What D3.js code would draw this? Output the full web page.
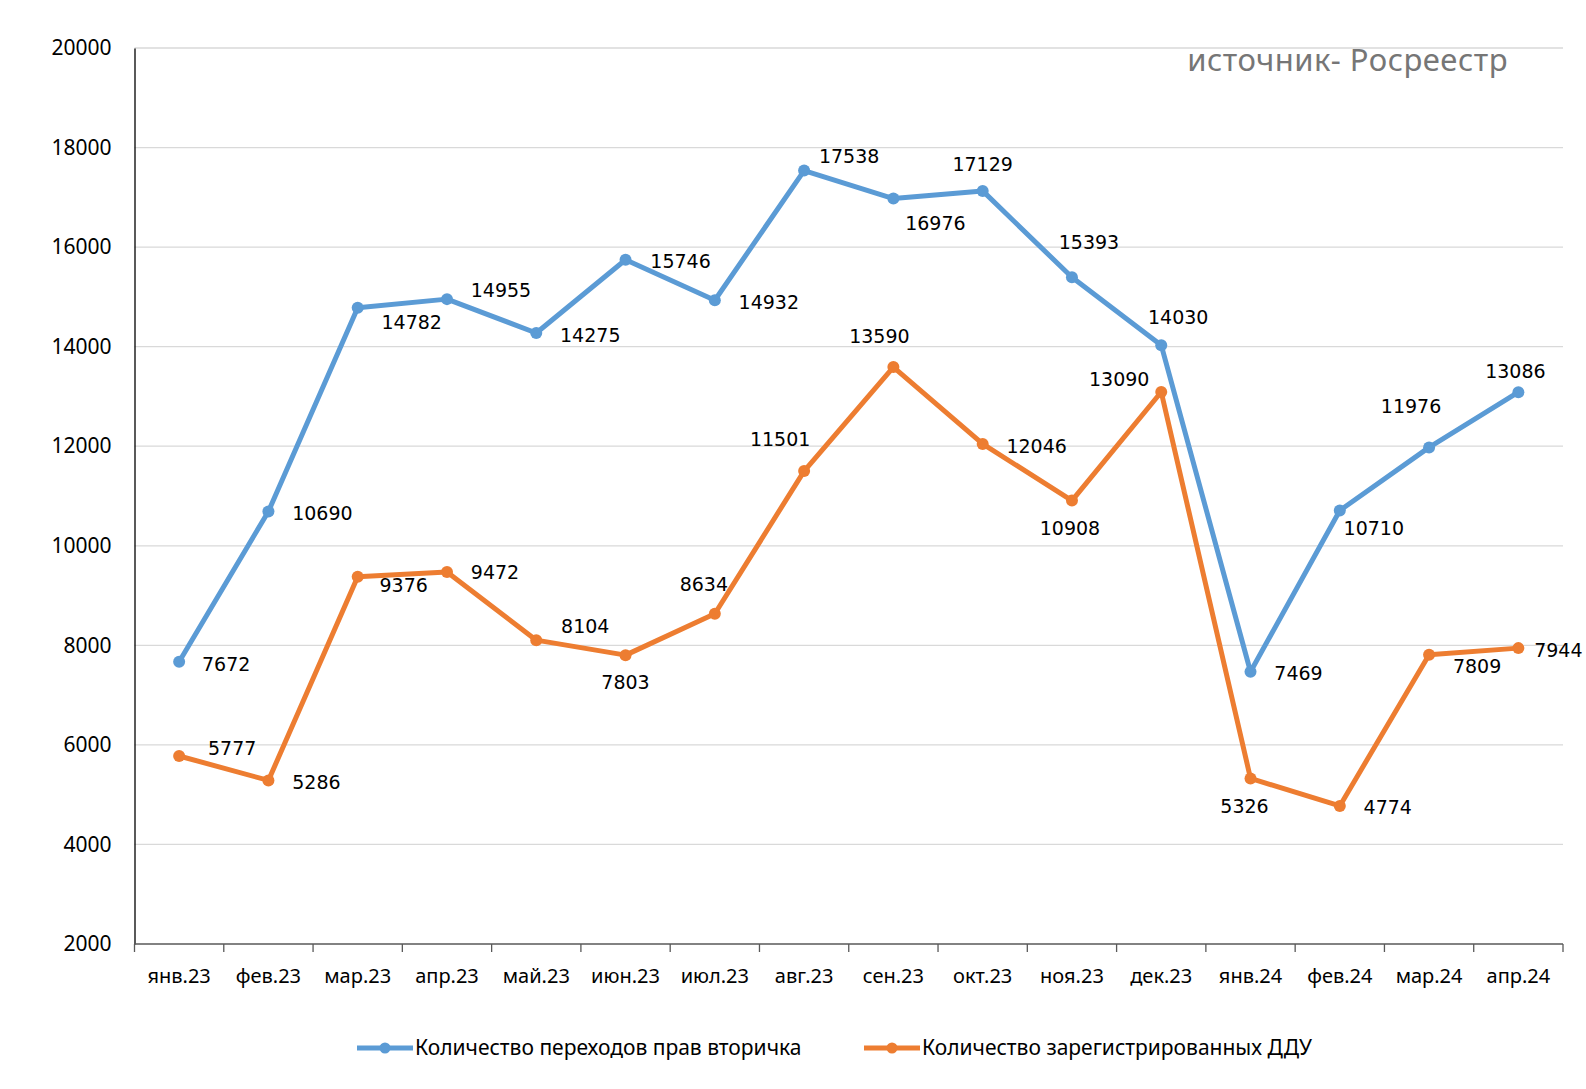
<!DOCTYPE html>
<html>
<head>
<meta charset="utf-8">
<script src="https://cdn.jsdelivr.net/npm/d3@7"></script>
<style>
  body { margin: 0; background: #fff; }
  svg { display: block; }
</style>
</head>
<body>
<div id="chart"></div>
<script>
// data
const months = ['янв.23', 'фев.23', 'мар.23', 'апр.23', 'май.23', 'июн.23', 'июл.23', 'авг.23',
                'сен.23', 'окт.23', 'ноя.23', 'дек.23', 'янв.24', 'фев.24', 'мар.24', 'апр.24'];
const secondary = [7672, 10690, 14782, 14955, 14275, 15746, 14932, 17538,
                   16976, 17129, 15393, 14030, 7469, 10710, 11976, 13086];
const ddu = [5777, 5286, 9376, 9472, 8104, 7803, 8634, 11501,
             13590, 12046, 10908, 13090, 5326, 4774, 7809, 7944];
const yTicks = [2000, 4000, 6000, 8000, 10000, 12000, 14000, 16000, 18000, 20000];
const seriesNames = ['Количество переходов прав вторичка', 'Количество зарегистрированных ДДУ'];

// label placement relative to its point [dx, dy]
const secondaryLabelPos = [[47, 3], [54, 2], [54, 15], [54, -9], [54, 2], [55, 2], [54, 2], [45, -14],
                           [42, 25], [0, -27], [17, -35], [17, -28], [48, 2], [34, 18], [-18, -41], [-3, -21]];
const dduLabelPos = [[53, -8], [48, 2], [46, 9], [48, 0], [49, -14], [0, 27], [-11, -29], [-24, -32],
                     [-14, -31], [54, 2], [-2, 28], [-42, -13], [-6, 28], [48, 1], [48, 12], [40, 2]];

const width = 1586, height = 1089;
const margin = { top: 48, right: 23, bottom: 145, left: 134.5 };
const blue = '#5b9bd5', orange = '#ed7d31';

const svg = d3.select('#chart').append('svg')
    .attr('width', width)
    .attr('height', height);

const x = d3.scaleBand()
    .domain(months)
    .range([margin.left, width - margin.right]);

const y = d3.scaleLinear()
    .domain([2000, 20000])
    .range([height - margin.bottom, margin.top]);

// gridlines
svg.append('g')
    .selectAll('line')
    .data(yTicks.slice(1))
    .join('line')
    .attr('x1', margin.left)
    .attr('x2', width - margin.right)
    .attr('y1', d => y(d))
    .attr('y2', d => y(d))
    .attr('stroke', '#d9d9d9')
    .attr('stroke-width', 1.3);

// y axis
const yAxis = svg.append('g')
    .attr('transform', `translate(${margin.left},0)`)
    .call(d3.axisLeft(y).tickValues(yTicks).tickSize(0).tickPadding(23).tickFormat(d3.format('d')));
yAxis.select('.domain').attr('stroke', '#000').attr('stroke-width', 1.3);
yAxis.selectAll('text')
    .attr('font-family', 'Noto Sans, sans-serif')
    .attr('font-size', 21)
    .attr('fill', '#000');

// x axis with ticks between categories
const xAxis = svg.append('g')
    .attr('transform', `translate(0,${y(2000)})`);
xAxis.append('line')
    .attr('x1', margin.left)
    .attr('x2', width - margin.right)
    .attr('stroke', '#595959')
    .attr('stroke-width', 1.3);
const edges = months.map(m => x(m)).concat([x(months[months.length - 1]) + x.bandwidth()]);
xAxis.selectAll('.tk')
    .data(edges)
    .join('line')
    .attr('class', 'tk')
    .attr('x1', d => d)
    .attr('x2', d => d)
    .attr('y1', 0)
    .attr('y2', 8)
    .attr('stroke', '#595959')
    .attr('stroke-width', 1.3);
xAxis.selectAll('.lbl')
    .data(months)
    .join('text')
    .attr('class', 'lbl')
    .attr('x', d => x(d) + x.bandwidth() / 2)
    .attr('y', 32)
    .attr('dy', '0.35em')
    .attr('text-anchor', 'middle')
    .attr('font-family', 'Noto Sans, sans-serif')
    .attr('font-size', 20)
    .attr('fill', '#000')
    .text(d => d);

// series
const cx = (d, i) => x(months[i]) + x.bandwidth() / 2;
const line = d3.line().x(cx).y(d => y(d));

function drawSeries(values, color, labelPos) {
    const g = svg.append('g');
    g.append('path')
        .datum(values)
        .attr('d', line)
        .attr('fill', 'none')
        .attr('stroke', color)
        .attr('stroke-width', 5)
        .attr('stroke-linejoin', 'round');
    g.selectAll('circle')
        .data(values)
        .join('circle')
        .attr('cx', cx)
        .attr('cy', d => y(d))
        .attr('r', 6)
        .attr('fill', color);
    g.selectAll('text')
        .data(values)
        .join('text')
        .attr('x', (d, i) => cx(d, i) + labelPos[i][0])
        .attr('y', (d, i) => y(d) + labelPos[i][1])
        .attr('dy', '0.35em')
        .attr('text-anchor', 'middle')
        .attr('font-family', 'DejaVu Sans, sans-serif')
        .attr('font-size', 19)
        .attr('fill', '#000')
        .text(d => d);
}

drawSeries(secondary, blue, secondaryLabelPos);
drawSeries(ddu, orange, dduLabelPos);

// source note
svg.append('text')
    .attr('x', 1508)
    .attr('y', 71)
    .attr('text-anchor', 'end')
    .attr('font-family', 'Noto Sans, sans-serif')
    .attr('font-size', 31)
    .attr('letter-spacing', 0.5)
    .attr('fill', '#767676')
    .text('источник- Росреестр');

// legend
const legend = svg.append('g').attr('transform', 'translate(0,1048)');
const legendItems = [
    { name: seriesNames[0], color: blue, x: 357 },
    { name: seriesNames[1], color: orange, x: 864 }
];
const li = legend.selectAll('g')
    .data(legendItems)
    .join('g')
    .attr('transform', d => `translate(${d.x},0)`);
li.append('line')
    .attr('x1', 0)
    .attr('x2', 56)
    .attr('stroke', d => d.color)
    .attr('stroke-width', 5);
li.append('circle')
    .attr('cx', 28)
    .attr('r', 5.5)
    .attr('fill', d => d.color);
li.append('text')
    .attr('x', 58)
    .attr('dy', '0.35em')
    .attr('font-family', 'Noto Sans, sans-serif')
    .attr('font-size', 21)
    .attr('fill', '#000')
    .text(d => d.name);
</script>
</body>
</html>
